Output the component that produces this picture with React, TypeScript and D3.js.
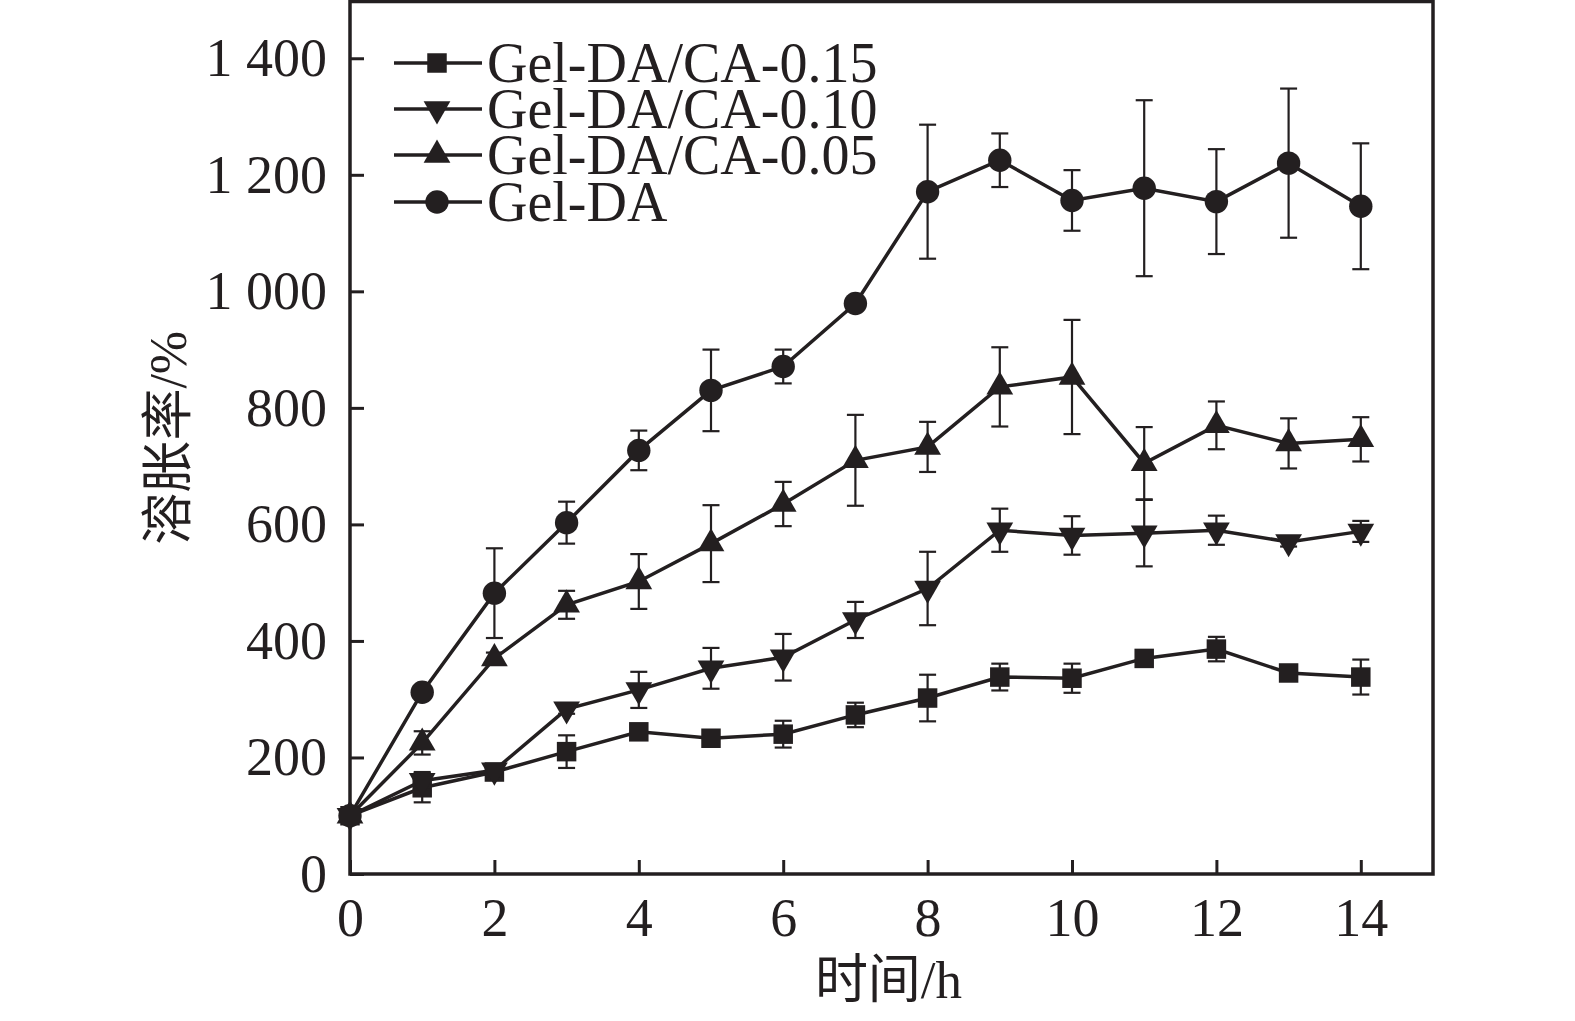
import { useEffect, useRef } from "react";
import * as d3 from "d3";

const hours = [0, 1, 2, 3, 4, 5, 6, 7, 8, 9, 10, 11, 12, 13, 14];

const ca015 = [100, 148, 175, 210, 244, 233, 240, 273, 302, 338, 336, 370, 386, 345, 338];
const ca015Err = [0, 25, 10, 28, 8, 8, 23, 21, 40, 23, 25, 8, 21, 8, 30];

const ca010 = [100, 160, 178, 283, 316, 353, 372, 436, 490, 590, 581, 585, 590, 570, 588];
const ca010Err = [0, 15, 10, 8, 31, 35, 40, 31, 63, 37, 33, 57, 25, 8, 18];

const ca005 = [100, 225, 370, 462, 502, 567, 635, 710, 733, 836, 853, 705, 770, 739, 746];
const ca005Err = [0, 20, 10, 24, 47, 66, 38, 78, 43, 68, 98, 62, 41, 43, 38];

const gelDA = [100, 312, 482, 603, 727, 830, 871, 979, 1171, 1225, 1156, 1177, 1154, 1220, 1146];
const gelDAErr = [0, 8, 77, 36, 34, 70, 29, 8, 115, 46, 52, 151, 90, 128, 108];

const seriesNames = ["Gel-DA/CA-0.15", "Gel-DA/CA-0.10", "Gel-DA/CA-0.05", "Gel-DA"];
const xTicks = [0, 2, 4, 6, 8, 10, 12, 14];
const yTicks = [0, 200, 400, 600, 800, 1000, 1200, 1400];
const yTickLabels = ["0", "200", "400", "600", "800", "1 000", "1 200", "1 400"];

const W = 1575;
const H = 1021;
const FONT = "'Liberation Serif', 'Times New Roman', 'Noto Sans CJK SC', serif";
const INK = "#231f20";

export default function App() {
  const svgRef = useRef<SVGSVGElement>(null);

  useEffect(() => {
    document.body.style.margin = "0";
    const svg = d3.select(svgRef.current);
    svg.selectAll("*").remove();

    const left = 350, right = 1433, top = 1.5, bottom = 874;
    const x = d3.scaleLinear().domain([0, 15]).range([left, right]);
    const y = d3.scaleLinear().domain([0, 1500]).range([bottom, 0]);

    const series = [
      { name: seriesNames[0], values: ca015, errs: ca015Err, shape: d3.symbolSquare, size: 380, rot: 0 },
      { name: seriesNames[1], values: ca010, errs: ca010Err, shape: d3.symbolTriangle, size: 310, rot: 180 },
      { name: seriesNames[2], values: ca005, errs: ca005Err, shape: d3.symbolTriangle, size: 310, rot: 0 },
      { name: seriesNames[3], values: gelDA, errs: gelDAErr, shape: d3.symbolCircle, size: 430, rot: 0 },
    ];

    // axes with inward ticks
    const xAxis = svg.append("g")
      .attr("transform", `translate(0,${bottom})`)
      .call(d3.axisBottom(x).tickValues(xTicks).tickSize(-14).tickPadding(24).tickFormat(d3.format("d")));
    xAxis.select(".domain").remove();
    xAxis.selectAll("line").attr("stroke", INK).attr("stroke-width", 3);
    xAxis.selectAll("text").attr("font-family", FONT).attr("font-size", 54).attr("fill", INK);

    const yAxis = svg.append("g")
      .attr("transform", `translate(${left},0)`)
      .call(d3.axisLeft(y).tickValues(yTicks).tickSize(-14).tickPadding(23)
        .tickFormat((d, i) => yTickLabels[i]));
    yAxis.select(".domain").remove();
    yAxis.selectAll("line").attr("stroke", INK).attr("stroke-width", 3);
    yAxis.selectAll("text").attr("font-family", FONT).attr("font-size", 54).attr("fill", INK);

    // frame
    svg.append("rect")
      .attr("x", left).attr("y", top)
      .attr("width", right - left).attr("height", bottom - top)
      .attr("fill", "none").attr("stroke", INK).attr("stroke-width", 3.5);

    const line = d3.line<number>().x((d, i) => x(hours[i])).y((d) => y(d));

    series.forEach((s) => {
      const g = svg.append("g");
      // error bars
      hours.forEach((h, i) => {
        if (s.errs[i] <= 0) return;
        const cx = x(h);
        const y1 = y(s.values[i] + s.errs[i]);
        const y2 = y(s.values[i] - s.errs[i]);
        g.append("line").attr("x1", cx).attr("x2", cx).attr("y1", y1).attr("y2", y2)
          .attr("stroke", INK).attr("stroke-width", 2.2);
        [y1, y2].forEach((yy) => {
          g.append("line").attr("x1", cx - 8.5).attr("x2", cx + 8.5).attr("y1", yy).attr("y2", yy)
            .attr("stroke", INK).attr("stroke-width", 2.2);
        });
      });
      g.append("path").datum(s.values).attr("d", line)
        .attr("fill", "none").attr("stroke", INK).attr("stroke-width", 3.5);
      g.selectAll("path.m").data(s.values).enter().append("path")
        .attr("class", "m")
        .attr("d", d3.symbol().type(s.shape).size(s.size)())
        .attr("transform", (d, i) => `translate(${x(hours[i])},${y(d)}) rotate(${s.rot})`)
        .attr("fill", INK);
    });

    // legend
    const legend = svg.append("g");
    const rowY = [63, 109, 155, 202];
    series.forEach((s, i) => {
      legend.append("line").attr("x1", 394).attr("x2", 482).attr("y1", rowY[i]).attr("y2", rowY[i])
        .attr("stroke", INK).attr("stroke-width", 3.5);
      legend.append("path")
        .attr("d", d3.symbol().type(s.shape).size(s.size)())
        .attr("transform", `translate(437,${rowY[i]}) rotate(${s.rot})`)
        .attr("fill", INK);
      legend.append("text").attr("x", 487).attr("y", rowY[i] + 19)
        .attr("font-family", FONT).attr("font-size", 56).attr("fill", INK)
        .text(s.name);
    });

    // axis titles
    svg.append("text")
      .attr("x", (left + right) / 2 - 3).attr("y", 998)
      .attr("text-anchor", "middle")
      .attr("font-family", FONT).attr("font-size", 53).attr("fill", INK)
      .text("时间/h");

    svg.append("text")
      .attr("transform", `translate(186,${(top + bottom) / 2}) rotate(-90)`)
      .attr("text-anchor", "middle")
      .attr("font-family", FONT).attr("font-size", 52).attr("fill", INK)
      .text("溶胀率/%");
  }, []);

  return <svg ref={svgRef} width={W} height={H} style={{ display: "block", background: "#fff" }} />;
}
